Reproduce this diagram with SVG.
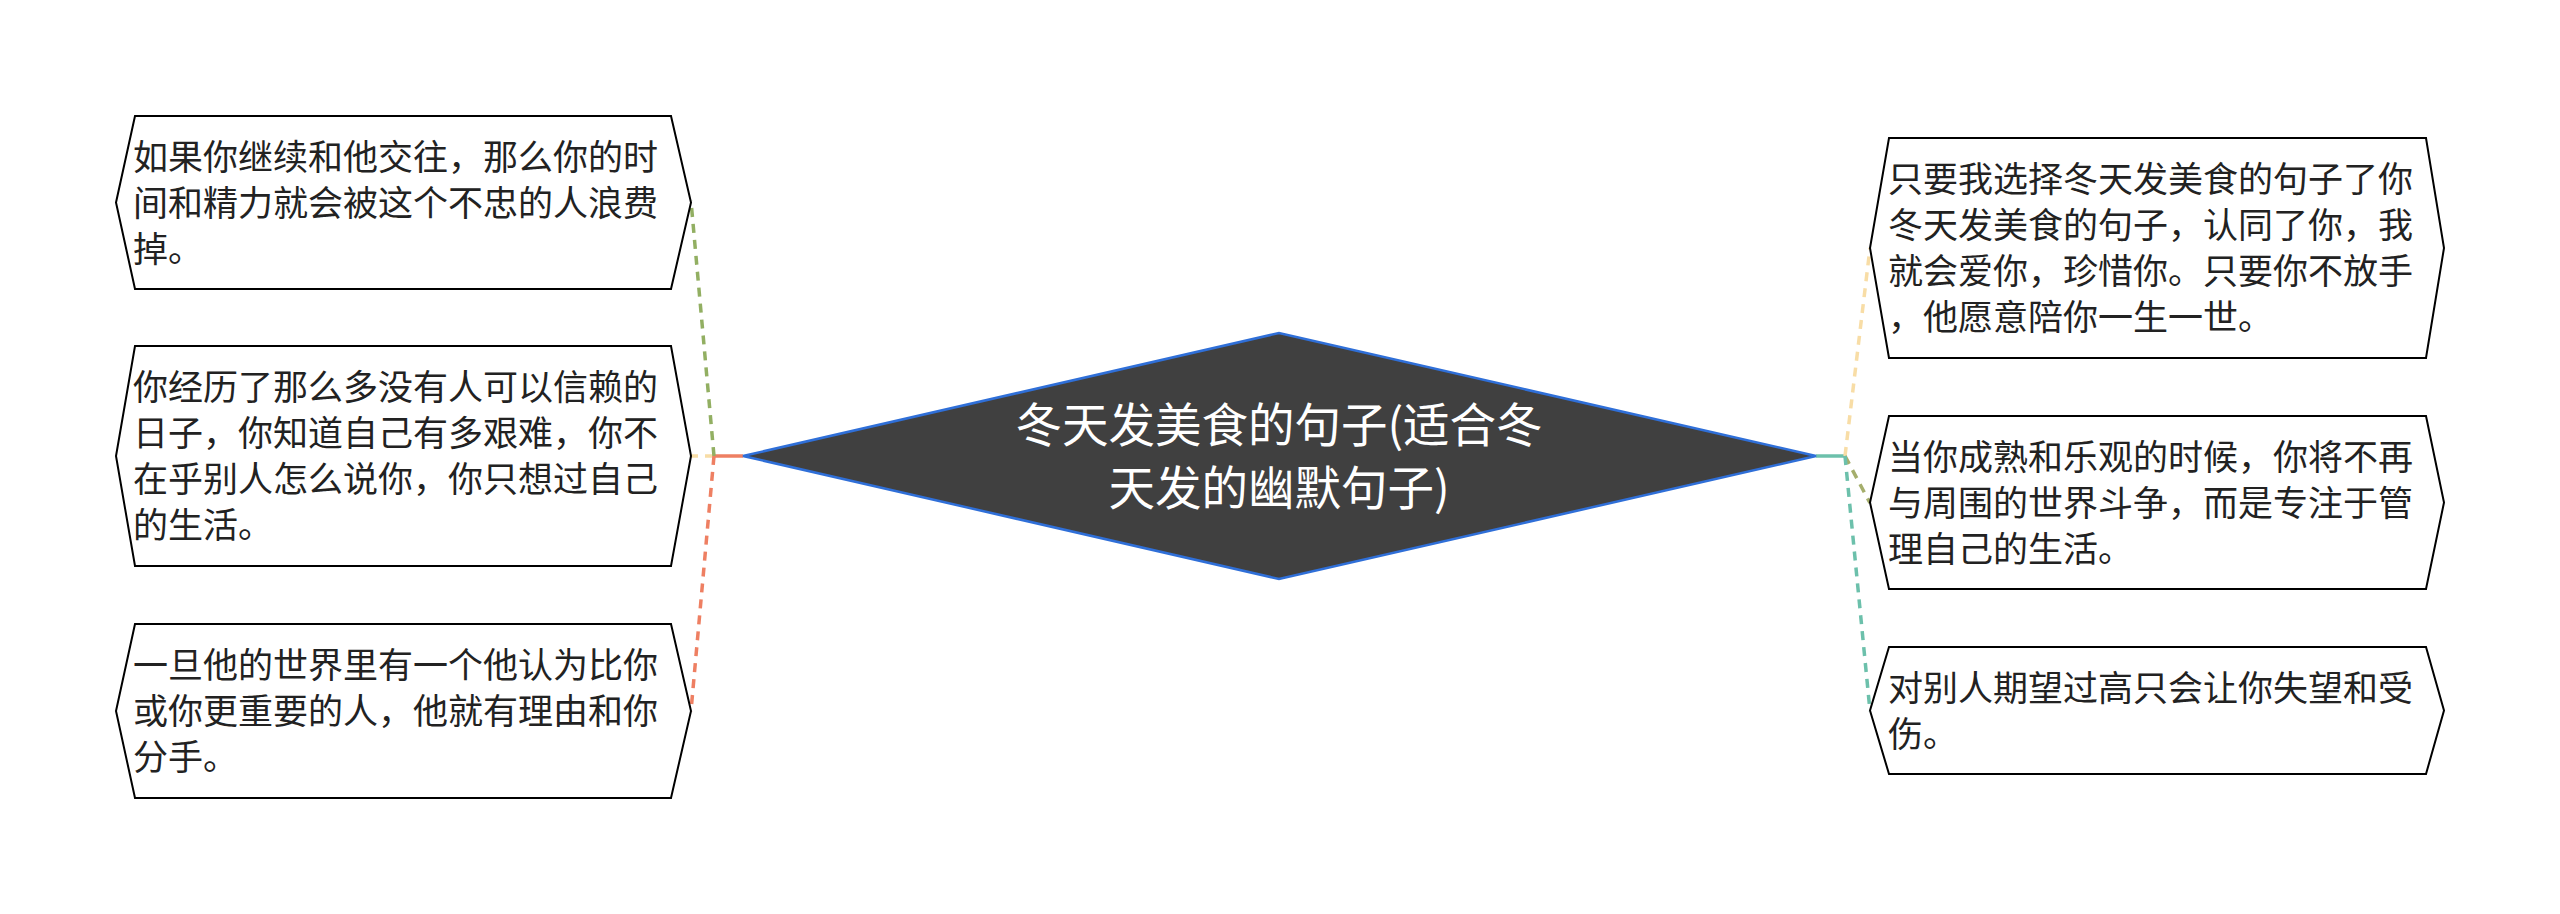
<svg xmlns="http://www.w3.org/2000/svg" width="2560" height="914" viewBox="0 0 2560 914">
<style>
.node{fill:#ffffff;stroke:#000000;stroke-width:2}
.t{font-family:"Noto Sans CJK SC","Noto Sans",sans-serif;font-size:35px;fill:#222222}
.ct{font-family:"Noto Sans CJK SC","Noto Sans",sans-serif;font-size:46.5px;fill:#ffffff;text-anchor:middle}
.c{fill:none;stroke-width:3.5}
.d{stroke-dasharray:9 7}
</style>
<rect width="2560" height="914" fill="#ffffff"/>
<g id="connectors">
<path class="c" d="M743 456 L714 456" stroke="#EE7F62"/>
<path class="c d" d="M714 456 L691 456" stroke="#F8DDA6"/>
<path class="c d" d="M714 456 L691 201" stroke="#92AF62"/>
<path class="c d" d="M714 456 L691 711" stroke="#EE7F62"/>
<path class="c" d="M1816 456 L1845 456" stroke="#6CC0AB"/>
<path class="c d" d="M1845 456 L1870 248" stroke="#F8DDA6"/>
<path class="c d" d="M1845 456 L1870 503" stroke="#A5AE6C"/>
<path class="c d" d="M1845 456 L1870 711" stroke="#6CC0AB"/>
</g>
<g id="center">
<polygon points="743,456 1279,333 1816,456 1279,579" fill="#404040" stroke="#2F6FD8" stroke-width="2.5"/>
<text class="ct" x="1279" y="442">冬天发美食的句子(适合冬</text>
<text class="ct" x="1279" y="505">天发的幽默句子)</text>
</g>
<g id="node1">
<polygon class="node" points="135,116 671,116 691,202.5 671,289 135,289 116,202.5"/>
<text class="t" x="133" y="170">如果你继续和他交往，那么你的时</text>
<text class="t" x="133" y="216">间和精力就会被这个不忠的人浪费</text>
<text class="t" x="133" y="262">掉。</text>
</g>
<g id="node2">
<polygon class="node" points="135,346 671,346 691,456 671,566 135,566 116,456"/>
<text class="t" x="133" y="400">你经历了那么多没有人可以信赖的</text>
<text class="t" x="133" y="446">日子，你知道自己有多艰难，你不</text>
<text class="t" x="133" y="492">在乎别人怎么说你，你只想过自己</text>
<text class="t" x="133" y="538">的生活。</text>
</g>
<g id="node3">
<polygon class="node" points="135,624 671,624 691,711 671,798 135,798 116,711"/>
<text class="t" x="133" y="678">一旦他的世界里有一个他认为比你</text>
<text class="t" x="133" y="724">或你更重要的人，他就有理由和你</text>
<text class="t" x="133" y="770">分手。</text>
</g>
<g id="node4">
<polygon class="node" points="1889,138 2426,138 2444,248 2426,358 1889,358 1870,248"/>
<text class="t" x="1888" y="192">只要我选择冬天发美食的句子了你</text>
<text class="t" x="1888" y="238">冬天发美食的句子，认同了你，我</text>
<text class="t" x="1888" y="284">就会爱你，珍惜你。只要你不放手</text>
<text class="t" x="1888" y="330">，他愿意陪你一生一世。</text>
</g>
<g id="node5">
<polygon class="node" points="1889,416 2426,416 2444,502.5 2426,589 1889,589 1870,502.5"/>
<text class="t" x="1888" y="470">当你成熟和乐观的时候，你将不再</text>
<text class="t" x="1888" y="516">与周围的世界斗争，而是专注于管</text>
<text class="t" x="1888" y="562">理自己的生活。</text>
</g>
<g id="node6">
<polygon class="node" points="1889,647 2426,647 2444,710.5 2426,774 1889,774 1870,710.5"/>
<text class="t" x="1888" y="701">对别人期望过高只会让你失望和受</text>
<text class="t" x="1888" y="747">伤。</text>
</g>
</svg>
